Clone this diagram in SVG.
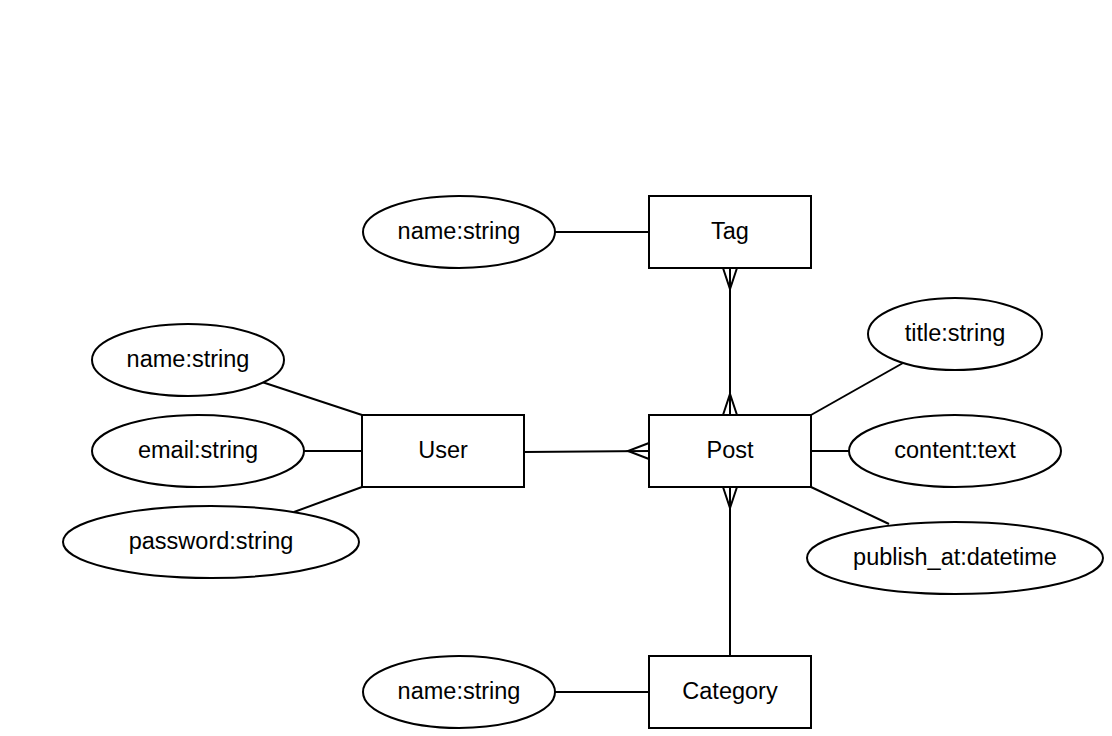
<svg xmlns="http://www.w3.org/2000/svg" width="1112" height="736" viewBox="0 0 1112 736">
<style>
.box{fill:#fff;stroke:#000;stroke-width:2}
.ell{fill:#fff;stroke:#000;stroke-width:2}
.ln{fill:none;stroke:#000;stroke-width:2}
text{font-family:"Liberation Sans",Arial,sans-serif;font-size:23.5px;fill:#000;text-anchor:middle;dominant-baseline:central}
</style>
<rect width="1112" height="736" fill="#fff"/>
<g id="connectors">
<line class="ln" x1="555" y1="232" x2="649" y2="232"/>
<line class="ln" x1="730" y1="268" x2="730" y2="415"/>
<path class="ln" d="M723,268 L730,289 L737,268"/>
<path class="ln" d="M723,415 L730,394 L737,415"/>
<line class="ln" x1="524" y1="452" x2="649" y2="451"/>
<path class="ln" d="M649,443 L628,451 L649,459"/>
<line class="ln" x1="730" y1="487" x2="730" y2="656"/>
<path class="ln" d="M723,487 L730,508 L737,487"/>
<line class="ln" x1="555" y1="692" x2="649" y2="692"/>
<line class="ln" x1="262" y1="382" x2="362" y2="415"/>
<line class="ln" x1="304" y1="451" x2="362" y2="451"/>
<line class="ln" x1="294" y1="512" x2="362" y2="487"/>
<line class="ln" x1="811" y1="415" x2="903" y2="363"/>
<line class="ln" x1="811" y1="451" x2="849" y2="451"/>
<line class="ln" x1="811" y1="487" x2="889" y2="524"/>
</g>
<g id="tag"><rect class="box" x="649" y="196" width="162" height="72"/><text x="730" y="231">Tag</text></g>
<g id="post"><rect class="box" x="649" y="415" width="162" height="72"/><text x="730" y="450">Post</text></g>
<g id="user"><rect class="box" x="362" y="415" width="162" height="72"/><text x="443" y="450">User</text></g>
<g id="category"><rect class="box" x="649" y="656" width="162" height="72"/><text x="730" y="691">Category</text></g>
<g id="tag-name"><ellipse class="ell" cx="459" cy="232" rx="96" ry="36"/><text x="459" y="231">name:string</text></g>
<g id="user-name"><ellipse class="ell" cx="188" cy="360" rx="96" ry="36"/><text x="188" y="359">name:string</text></g>
<g id="user-email"><ellipse class="ell" cx="198" cy="451" rx="106" ry="36"/><text x="198" y="450">email:string</text></g>
<g id="user-password"><ellipse class="ell" cx="211" cy="542" rx="148" ry="36"/><text x="211" y="541">password:string</text></g>
<g id="post-title"><ellipse class="ell" cx="955" cy="334" rx="87" ry="36"/><text x="955" y="333">title:string</text></g>
<g id="post-content"><ellipse class="ell" cx="955" cy="451" rx="106" ry="36"/><text x="955" y="450">content:text</text></g>
<g id="post-publish"><ellipse class="ell" cx="955" cy="558" rx="148" ry="36"/><text x="955" y="557">publish_at:datetime</text></g>
<g id="category-name"><ellipse class="ell" cx="459" cy="692" rx="96" ry="36"/><text x="459" y="691">name:string</text></g>
</svg>
